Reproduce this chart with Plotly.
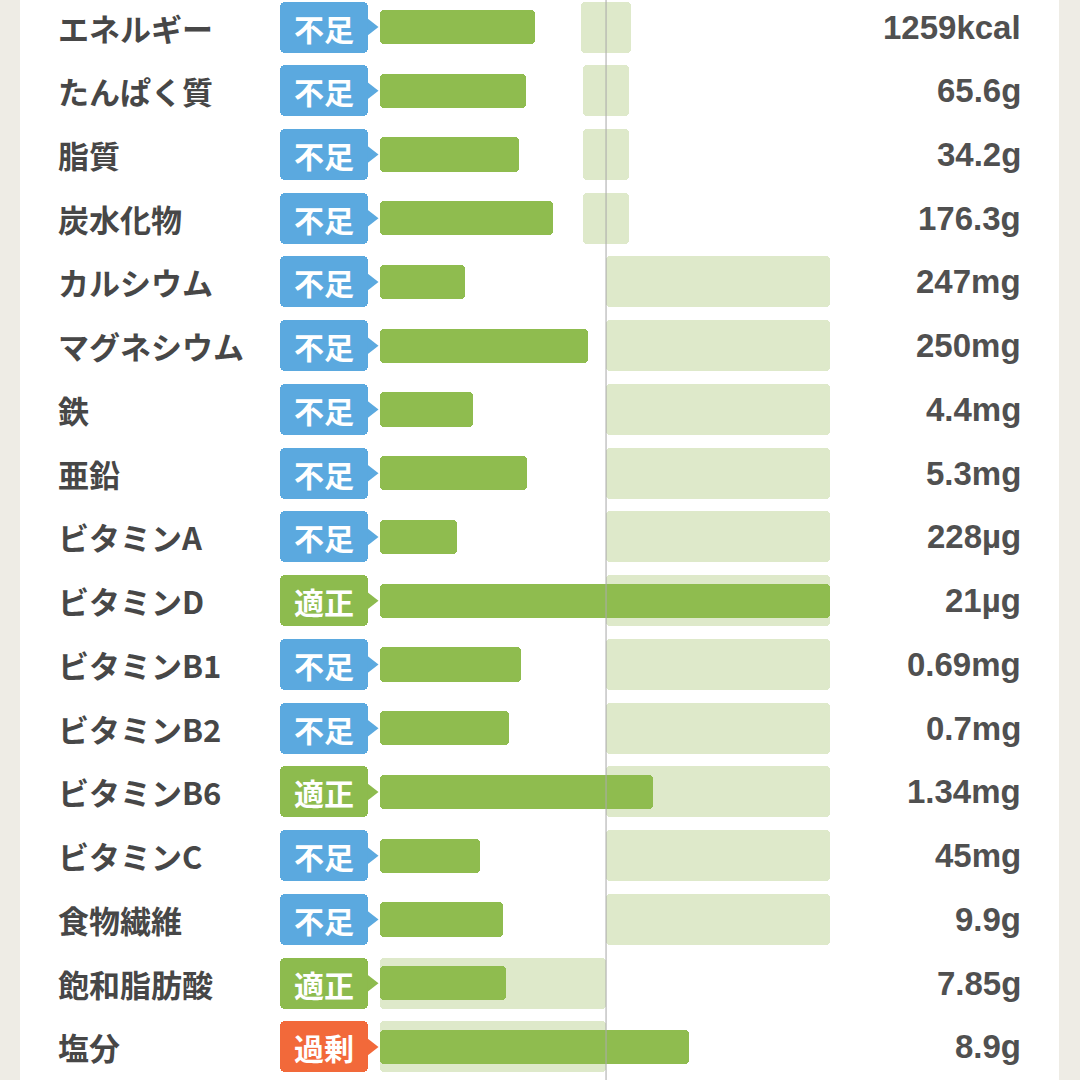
import plotly.graph_objects as go

# ---- data ----
nutrients = ["エネルギー", "たんぱく質", "脂質", "炭水化物", "カルシウム", "マグネシウム", "鉄", "亜鉛",
             "ビタミンA", "ビタミンD", "ビタミンB1", "ビタミンB2", "ビタミンB6", "ビタミンC",
             "食物繊維", "飽和脂肪酸", "塩分"]
status = ["不足", "不足", "不足", "不足", "不足", "不足", "不足", "不足",
          "不足", "適正", "不足", "不足", "適正", "不足", "不足", "適正", "過剰"]
amounts = ["1259kcal", "65.6g", "34.2g", "176.3g", "247mg", "250mg", "4.4mg", "5.3mg",
           "228µg", "21µg", "0.69mg", "0.7mg", "1.34mg", "45mg", "9.9g", "7.85g", "8.9g"]
# percent of target (bar length)
percent = [68.6, 64.6, 61.5, 76.5, 37.6, 92.0, 41.2, 65.0,
           34.1, 199.0, 62.4, 57.1, 120.8, 44.2, 54.4, 55.8, 136.7]
# recommended range (percent)
range_lo = [89, 90, 90, 90, 100, 100, 100, 100, 100, 100, 100, 100, 100, 100, 100, 0, 0]
range_hi = [111, 110, 110, 110, 199, 199, 199, 199, 199, 199, 199, 199, 199, 199, 199, 100, 100]

status_colors = {"不足": "#5ba9df", "適正": "#8dbb4e", "過剰": "#f2693a"}

BAR_GREEN = "#8fbc4f"
RANGE_GREEN = "#dee9ca"
TEXT = "#474747"
FONT = "Noto Sans CJK JP"
NUM_FONT = "Liberation Sans"

n = len(nutrients)
idx = list(range(n))

fig = go.Figure()

# recommended ranges
fig.add_trace(go.Bar(
    y=idx, x=[h - l for l, h in zip(range_lo, range_hi)], base=range_lo,
    orientation="h", width=0.8,
    marker=dict(color=RANGE_GREEN, cornerradius=4, line=dict(width=0)),
    hoverinfo="skip", showlegend=False,
))

# intake bars
fig.add_trace(go.Bar(
    y=idx, x=percent, base=[0] * n, orientation="h", width=0.535,
    marker=dict(color=BAR_GREEN, cornerradius=4, line=dict(width=0)),
    hoverinfo="skip", showlegend=False,
))

# status badges
badge_base = -44.2
badge_len = 38.9
fig.add_trace(go.Bar(
    y=idx, x=[badge_len] * n, base=[badge_base] * n, orientation="h", width=0.8,
    marker=dict(color=[status_colors[s] for s in status], cornerradius=5, line=dict(width=0)),
    text=[f"<b>{s}</b>" for s in status], textposition="inside", insidetextanchor="middle",
    textfont=dict(color="white", size=30, family=FONT), constraintext="none",
    hoverinfo="skip", showlegend=False,
))
# badge notch arrows
fig.add_trace(go.Scatter(
    y=idx, x=[-4.0] * n, mode="markers",
    marker=dict(symbol="triangle-right", size=15, color=[status_colors[s] for s in status],
                line=dict(width=0)),
    hoverinfo="skip", showlegend=False,
))

# labels and values
for i in idx:
    fig.add_annotation(x=0.0346, xref="paper", y=i, yref="y", text=f"<b>{nutrients[i]}</b>",
                       showarrow=False, xanchor="left", yanchor="middle",
                       font=dict(size=31, color=TEXT, family=FONT))
    fig.add_annotation(x=0.9654, xref="paper", y=i, yref="y", text=f"<b>{amounts[i]}</b>",
                       showarrow=False, xanchor="right", yanchor="middle",
                       font=dict(size=33, color="#505050", family=NUM_FONT))

# 100% reference line
fig.add_shape(type="line", x0=100, x1=100, xref="x", y0=0, y1=1, yref="paper",
              line=dict(color="rgba(170,170,170,0.7)", width=1.5), layer="above")

fig.update_layout(
    width=1080, height=1080,
    margin=dict(l=20, r=21, t=0, b=0),
    paper_bgcolor="#eeece5", plot_bgcolor="#ffffff",
    barmode="overlay", bargap=0,
    xaxis=dict(range=[-159.3, 300.4], visible=False, fixedrange=True),
    yaxis=dict(range=[16.518, -0.4235], visible=False, fixedrange=True),
    font=dict(family=FONT),
)

fig.write_html("out.html", config={"displayModeBar": False},
               post_script="document.body.style.margin='0';document.body.style.overflow='hidden';")
